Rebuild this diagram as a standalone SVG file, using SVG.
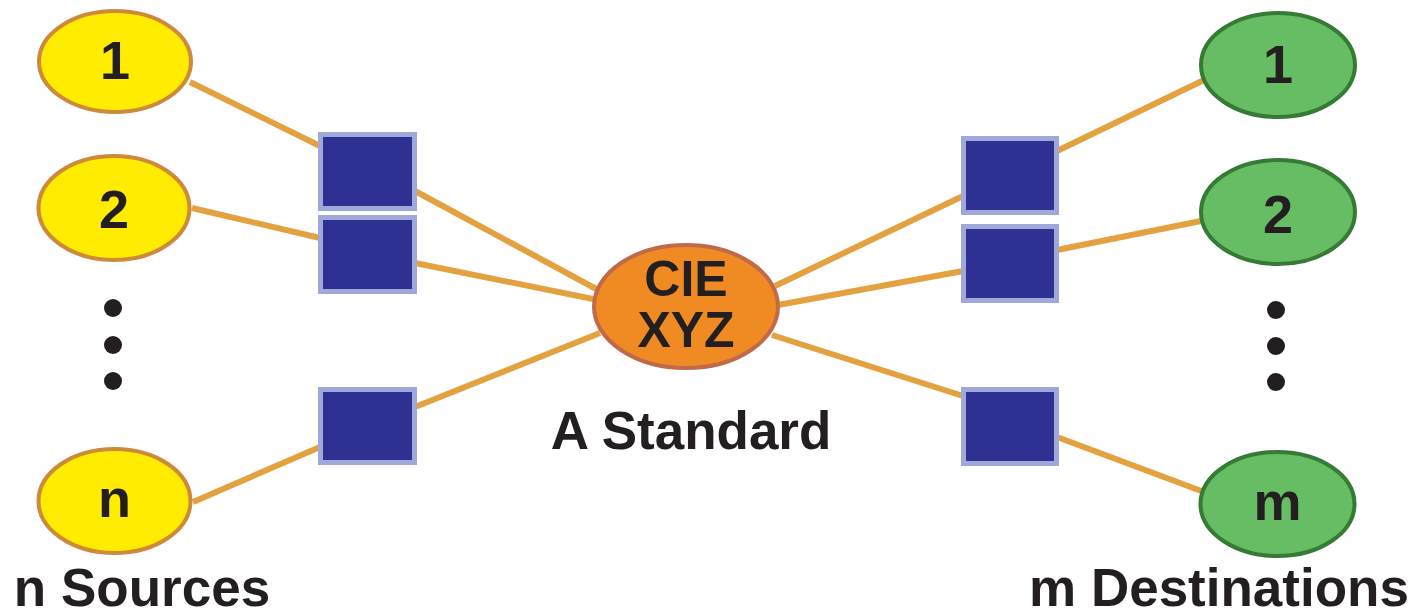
<svg xmlns="http://www.w3.org/2000/svg" width="1424" height="615" viewBox="0 0 1424 615">
<style>
.lbl{font-family:"Liberation Sans",Arial,sans-serif;font-weight:bold;fill:#231F20;text-anchor:middle}
.num{font-size:54px}
.big{font-size:53px}
.src{fill:#FFEC00;stroke:#CC8A3A;stroke-width:4}
.dst{fill:#66BD63;stroke:#357A35;stroke-width:4}
.sq{fill:#2E3192;stroke:#9FA8D8;stroke-width:5}
.con{fill:none;stroke:#E3A23F;stroke-width:6}
.dot{fill:#231F20}
</style>
<rect width="1424" height="615" fill="#FFFFFF"/>
<g id="connectors">
<polyline class="con" points="190,82 320,146"/>
<polyline class="con" points="415,191 600,291"/>
<polyline class="con" points="192,208 320,238"/>
<polyline class="con" points="415,263 598,300"/>
<polyline class="con" points="193,502 320,447"/>
<polyline class="con" points="415,407 600,333"/>
<polyline class="con" points="775,286 963,196"/>
<polyline class="con" points="1057,151 1204,80"/>
<polyline class="con" points="778,305 963,271"/>
<polyline class="con" points="1057,250 1201,221"/>
<polyline class="con" points="772,335 963,396"/>
<polyline class="con" points="1057,437 1204,492"/>
</g>
<g id="src1"><ellipse class="src" cx="115" cy="61.5" rx="76" ry="50.5"/><text class="lbl num" x="115" y="79">1</text></g>
<g id="src2"><ellipse class="src" cx="114" cy="208" rx="75.5" ry="52"/><text class="lbl num" x="114" y="228">2</text></g>
<g id="srcDots"><circle class="dot" cx="113" cy="308" r="9"/><circle class="dot" cx="113" cy="345" r="9"/><circle class="dot" cx="113" cy="381" r="9"/></g>
<g id="srcn"><ellipse class="src" cx="114.5" cy="501" rx="76" ry="52"/><text class="lbl num" x="114.5" y="517">n</text></g>
<g id="sqL1"><rect class="sq" x="320.5" y="134.5" width="94" height="74"/></g>
<g id="sqL2"><rect class="sq" x="320.5" y="217.5" width="94" height="74"/></g>
<g id="sqL3"><rect class="sq" x="320.5" y="389.5" width="94" height="73"/></g>
<g id="center"><ellipse cx="686" cy="306.5" rx="92" ry="61.5" fill="#EF8B22" stroke="#C06A4A" stroke-width="4"/><text class="lbl" font-size="50" x="686" y="296">CIE</text><text class="lbl" font-size="50" x="686" y="347">XYZ</text></g>
<g id="standardLabel"><text class="lbl big" x="691" y="449">A Standard</text></g>
<g id="sqR1"><rect class="sq" x="963.5" y="138.5" width="93" height="74"/></g>
<g id="sqR2"><rect class="sq" x="963.5" y="226.5" width="93" height="74"/></g>
<g id="sqR3"><rect class="sq" x="963.5" y="389.5" width="93" height="74"/></g>
<g id="dst1"><ellipse class="dst" cx="1278" cy="65" rx="77" ry="52"/><text class="lbl num" x="1278" y="83">1</text></g>
<g id="dst2"><ellipse class="dst" cx="1278" cy="212" rx="77" ry="52"/><text class="lbl num" x="1278" y="233">2</text></g>
<g id="dstDots"><circle class="dot" cx="1276" cy="310" r="9"/><circle class="dot" cx="1276" cy="346" r="9"/><circle class="dot" cx="1276" cy="382" r="9"/></g>
<g id="dstm"><ellipse class="dst" cx="1277.5" cy="504" rx="77" ry="52"/><text class="lbl num" x="1277.5" y="520">m</text></g>
<g id="srcLabel"><text class="lbl big" x="142" y="606">n Sources</text></g>
<g id="dstLabel"><text class="lbl big" x="1219" y="606">m Destinations</text></g>
</svg>
